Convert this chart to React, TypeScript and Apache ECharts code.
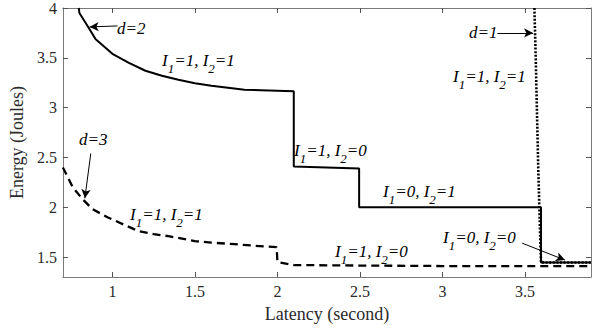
import React, { useEffect, useRef } from "react";
import * as echarts from "echarts";

// d=2 curve (solid)
const d2X = [0.796, 0.8, 0.857, 0.897, 1.0, 1.1, 1.2, 1.3, 1.4, 1.5, 1.6, 1.7, 1.8, 1.9, 2.0, 2.099, 2.099, 2.495, 2.495, 3.597, 3.597, 3.9];
const d2Y = [4.0, 3.95, 3.8, 3.69, 3.54, 3.45, 3.37, 3.32, 3.28, 3.245, 3.22, 3.2, 3.18, 3.175, 3.17, 3.165, 2.41, 2.39, 2.0, 2.0, 1.445, 1.445];

// d=3 curve (dashed)
const d3X = [0.7, 0.76, 0.82, 0.88, 0.97, 1.09, 1.16, 1.25, 1.34, 1.5, 1.6, 1.74, 1.85, 1.995, 2.0, 2.1, 2.5, 3.0, 3.5, 3.9];
const d3Y = [2.4, 2.2, 2.08, 1.98, 1.9, 1.81, 1.76, 1.73, 1.71, 1.66, 1.645, 1.63, 1.615, 1.6, 1.45, 1.42, 1.415, 1.41, 1.41, 1.41];

// d=1 curve (dotted)
const d1X = [3.557, 3.565, 3.572, 3.58, 3.587, 3.594, 3.597, 3.9];
const d1Y = [4.0, 3.5, 3.0, 2.42, 2.0, 1.6, 1.445, 1.445];

const xTicks = [1, 1.5, 2, 2.5, 3, 3.5];
const yTicks = [1.5, 2, 2.5, 3, 3.5, 4];

// arrows: [fromX, fromY, toX, toY] in data coordinates
const arrows = [
  [1.031, 3.82, 0.862, 3.81],
  [0.869, 2.54, 0.833, 2.09],
  [3.333, 3.75, 3.549, 3.75],
  [3.483, 1.64, 3.742, 1.47],
];

const zip = (xs: number[], ys: number[]) => xs.map((x, i) => [x, ys[i]]);

const SERIF = "'Liberation Serif', 'Times New Roman', serif";

const richStyles = {
  i: { fontSize: 17, fontStyle: "italic", fontFamily: SERIF, color: "#000", lineHeight: 30 },
  s: { fontSize: 13, fontStyle: "italic", fontFamily: SERIF, color: "#000", lineHeight: 14, verticalAlign: "bottom" },
};

const iText = (a: string, b: string) => `{i|I}{s|1}{i|=${a}, I}{s|2}{i|=${b}}`;

function label(x: number, y: number, text: string) {
  return {
    type: "text",
    x,
    y,
    silent: true,
    style: { text, rich: richStyles, align: "left", verticalAlign: "middle", fill: "#000" },
  };
}

function plain(x: number, y: number, text: string) {
  return {
    type: "text",
    x,
    y,
    silent: true,
    style: {
      text,
      font: `italic 17px ${SERIF}`,
      fill: "#000",
      align: "left",
      verticalAlign: "middle",
    },
  };
}

export default function App() {
  const ref = useRef<HTMLDivElement>(null);
  useEffect(() => {
    if (!ref.current) return;
    const chart = echarts.init(ref.current, undefined, { renderer: "svg" });
    const axisLine = { show: true, lineStyle: { color: "#7a7a7a", width: 1 } };
    const tickStyle = { color: "#555", width: 1 };
    const labelStyle = { fontFamily: SERIF, fontSize: 16, color: "#2a2a2a" };
    const nameStyle = { fontFamily: SERIF, fontSize: 18, color: "#2a2a2a" };
    chart.setOption({
      animation: false,
      grid: { left: 60, right: 9, top: 7, bottom: 56, containLabel: false },
      xAxis: [
        {
          type: "value",
          min: 0.7,
          max: 3.9,
          position: "bottom",
          axisLine,
          axisTick: { show: true, inside: true, length: 5, lineStyle: tickStyle, customValues: xTicks },
          axisLabel: { ...labelStyle, margin: 6, customValues: xTicks },
          splitLine: { show: false },
          name: "Latency (second)",
          nameLocation: "middle",
          nameGap: 28,
          nameTextStyle: nameStyle,
        },
        {
          type: "value",
          min: 0.7,
          max: 3.9,
          position: "top",
          axisLine,
          axisTick: { show: true, inside: true, length: 5, lineStyle: tickStyle, customValues: xTicks },
          axisLabel: { show: false },
          splitLine: { show: false },
        },
      ],
      yAxis: [
        {
          type: "value",
          min: 1.3,
          max: 4,
          position: "left",
          axisLine,
          axisTick: { show: true, inside: true, length: 5, lineStyle: tickStyle, customValues: yTicks },
          axisLabel: { ...labelStyle, margin: 6, customValues: yTicks },
          splitLine: { show: false },
          name: "Energy (Joules)",
          nameLocation: "middle",
          nameGap: 29,
          nameTextStyle: nameStyle,
        },
        {
          type: "value",
          min: 1.3,
          max: 4,
          position: "right",
          axisLine,
          axisTick: { show: true, inside: true, length: 5, lineStyle: tickStyle, customValues: yTicks },
          axisLabel: { show: false },
          splitLine: { show: false },
        },
      ],
      series: [
        {
          type: "line",
          data: zip(d3X, d3Y),
          showSymbol: false,
          lineStyle: { color: "#000", width: 2.3, type: [8, 5] },
          z: 2,
        },
        {
          type: "line",
          data: zip(d2X, d2Y),
          showSymbol: false,
          lineStyle: { color: "#000", width: 2 },
          z: 3,
          markLine: {
            silent: true,
            symbol: ["none", "arrow"],
            symbolSize: [7, 9],
            label: { show: false },
            lineStyle: { color: "#000", width: 1, type: "solid" },
            data: arrows.map((a) => [
              { coord: [a[0], a[1]], symbol: "none" },
              { coord: [a[2], a[3]], symbol: "arrow" },
            ]),
          },
        },
        {
          type: "line",
          data: zip(d1X, d1Y),
          showSymbol: false,
          lineStyle: { color: "#000", width: 2.6, type: [2, 1.6] },
          z: 4,
        },
      ],
      graphic: [
        plain(117, 28, "d=2"),
        plain(79, 139, "d=3"),
        plain(469, 32, "d=1"),
        label(162, 60, iText("1", "1")),
        label(294, 150, iText("1", "0")),
        label(383, 191, iText("0", "1")),
        label(443, 237, iText("0", "0")),
        label(335, 251, iText("1", "0")),
        label(130, 214, iText("1", "1")),
        label(453, 76, iText("1", "1")),
      ],
    });
    return () => chart.dispose();
  }, []);
  return <div ref={ref} style={{ width: 600, height: 333, position: "absolute", left: 0, top: 0 }} />;
}
